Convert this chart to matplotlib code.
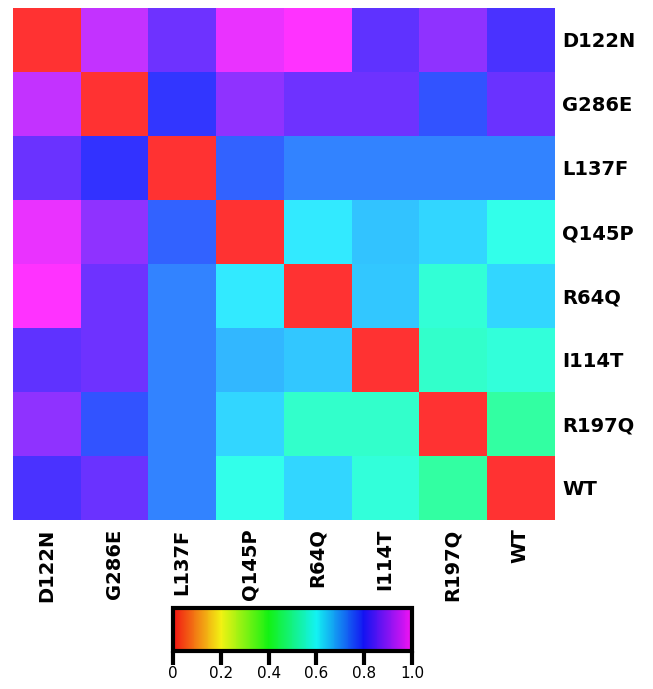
import colorsys
import matplotlib
matplotlib.use("Agg")
import matplotlib.pyplot as plt
import numpy as np
from matplotlib.colors import ListedColormap, Normalize
from matplotlib.cm import ScalarMappable

# mutant labels, same order on both axes
mutants = ['D122N', 'G286E', 'L137F', 'Q145P', 'R64Q', 'I114T', 'R197Q', 'WT']

# pairwise values (row = y label, column = x label)
row_d122n = [0.00, 0.94, 0.857, 0.977, 1.00, 0.842, 0.889, 0.823]
row_g286e = [0.94, 0.00, 0.794, 0.889, 0.857, 0.857, 0.767, 0.853]
row_l137f = [0.853, 0.80, 0.00, 0.75, 0.72, 0.722, 0.722, 0.72]
row_q145p = [0.977, 0.889, 0.75, 0.00, 0.62, 0.66, 0.64, 0.58]
row_r64q = [1.00, 0.857, 0.72, 0.62, 0.00, 0.655, 0.56, 0.64]
row_i114t = [0.842, 0.857, 0.72, 0.67, 0.655, 0.00, 0.55, 0.565]
row_r197q = [0.889, 0.767, 0.72, 0.64, 0.55, 0.55, 0.00, 0.51]
row_wt = [0.823, 0.853, 0.72, 0.58, 0.64, 0.565, 0.51, 0.00]

cbar_ticks = [0, 0.2, 0.4, 0.6, 0.8, 1.0]
cbar_labels = ['0', '0.2', '0.4', '0.6', '0.8', '1.0']


def hue_cmap(sat, val, n=256):
    # red -> yellow -> green -> cyan -> blue -> magenta
    cols = [colorsys.hsv_to_rgb(t * 5 / 6, sat, val) for t in np.linspace(0, 1, n)]
    return ListedColormap(cols)


data = np.array([row_d122n, row_g286e, row_l137f, row_q145p,
                 row_r64q, row_i114t, row_r197q, row_wt])

fig = plt.figure(figsize=(6.53, 6.89), dpi=100)
ax = fig.add_axes([0.0199, 0.2453, 0.8285, 0.7431])
ax.imshow(data, cmap=hue_cmap(0.8, 1.0), vmin=0, vmax=1,
          aspect='auto', interpolation='nearest')

ax.set_xticks(range(len(mutants)))
ax.set_xticklabels(mutants, rotation=90, fontsize=14, fontweight='bold',
                   family='DejaVu Sans')
ax.set_yticks(range(len(mutants)))
ax.set_yticklabels(mutants, fontsize=14, fontweight='bold', family='DejaVu Sans')
ax.yaxis.tick_right()
ax.tick_params(axis='both', length=0)
ax.tick_params(axis='y', pad=6)
ax.tick_params(axis='x', pad=6)
for s in ax.spines.values():
    s.set_visible(False)

# colorbar below
cax = fig.add_axes([0.2649, 0.055, 0.366, 0.0624])
sm = ScalarMappable(norm=Normalize(0, 1), cmap=hue_cmap(0.92, 0.95))
cb = fig.colorbar(sm, cax=cax, orientation='horizontal')
cb.outline.set_linewidth(3)
cb.set_ticks(cbar_ticks)
cb.set_ticklabels(cbar_labels)
cax.tick_params(axis='x', length=10, width=3, labelsize=11, pad=1)

fig.savefig('out.png', dpi=100)
